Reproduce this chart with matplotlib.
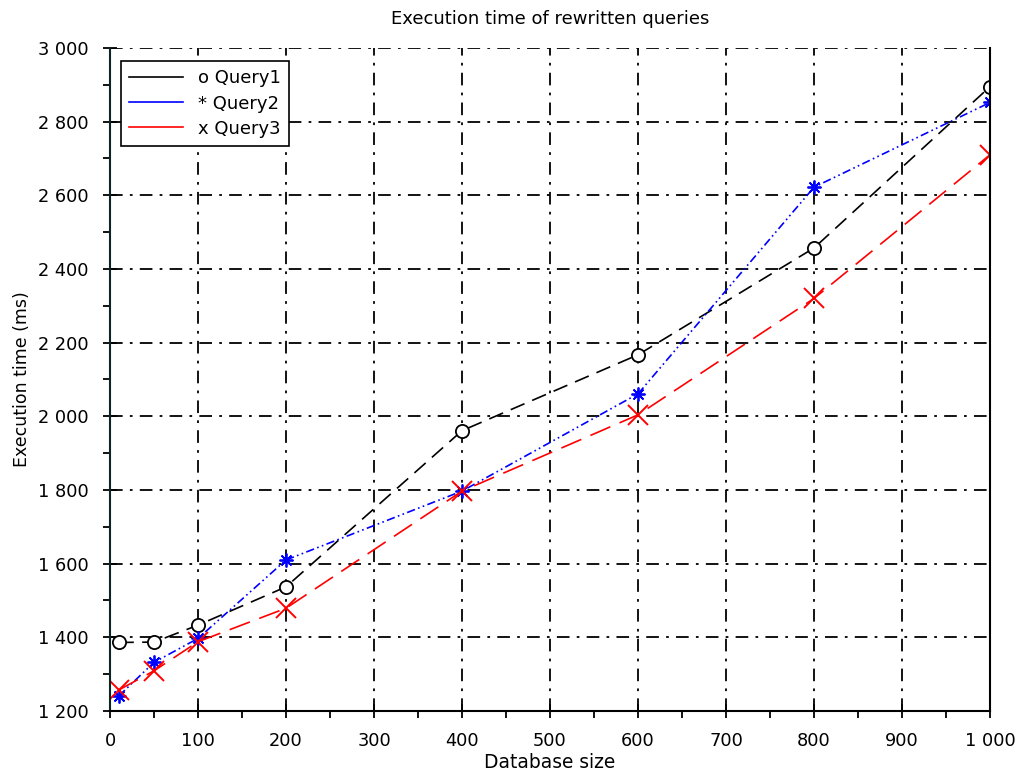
import matplotlib
matplotlib.use("Agg")
import matplotlib.pyplot as plt
from matplotlib.ticker import FuncFormatter, MultipleLocator

# data
db_size = [10, 50, 100, 200, 400, 600, 800, 1000]
query1 = [1386, 1387, 1433, 1537, 1961, 2167, 2457, 2895]
query2 = [1241, 1332, 1397, 1610, 1797, 2061, 2622, 2852]
query3 = [1257, 1309, 1388, 1479, 1797, 2004, 2320, 2710]

fig = plt.figure(figsize=(10.15, 7.76), dpi=100)
ax = fig.add_axes([0.1084, 0.0838, 0.8670, 0.8544])

ax.plot(db_size, query1, color="black", lw=1.2, dashes=(9, 5),
        marker="o", ms=9.5, mfc="white", mec="black", mew=1.3, label="o Query1")
ax.plot(db_size, query2, color="blue", lw=1.2, dashes=(5, 2, 1, 2, 1, 2),
        marker=(8, 2, 0), ms=10, mec="blue", mew=1.3, label="* Query2")
ax.plot(db_size, query3, color="red", lw=1.2, dashes=(13, 6),
        marker="x", ms=14, mec="red", mew=1.4, label="x Query3")

ax.set_xlim(0, 1000)
ax.set_ylim(1200, 3000)
ax.xaxis.set_major_locator(MultipleLocator(100))
ax.xaxis.set_minor_locator(MultipleLocator(50))
ax.yaxis.set_major_locator(MultipleLocator(200))
ax.yaxis.set_minor_locator(MultipleLocator(100))

spaced = FuncFormatter(lambda v, p: f"{int(v):,}".replace(",", " "))
ax.xaxis.set_major_formatter(spaced)
ax.yaxis.set_major_formatter(spaced)

ax.grid(True, which="major", color="black", lw=1.3, dashes=(7, 4, 1.5, 4))
ax.set_axisbelow(True)

ax.spines["top"].set_visible(False)
for s in ["left", "bottom", "right"]:
    ax.spines[s].set_linewidth(1.5)
ax.spines["left"].set_color("#0c2424")

ax.tick_params(which="major", direction="inout", length=10, width=1.3, labelsize=12.8)
ax.tick_params(axis="y", which="major", pad=10.5)
ax.tick_params(axis="x", which="major", pad=10.5)
ax.tick_params(which="minor", direction="out", length=5, width=1.3)
ax.tick_params(axis="y", which="both", right=False)
ax.tick_params(axis="x", which="both", top=False)

ax.set_xlabel("Database size", fontsize=13.4, labelpad=2)
ax.set_ylabel("Execution time (ms)", fontsize=12.5, labelpad=5)
ax.set_title("Execution time of rewritten queries", fontsize=13, pad=17)

leg = ax.legend(loc="upper left", bbox_to_anchor=(0.0125, 0.98), borderaxespad=0,
                fontsize=13, fancybox=False, framealpha=1, edgecolor="black",
                handlelength=3.0, handletextpad=0.8, borderpad=0.45, labelspacing=0.4)
leg.get_frame().set_linewidth(1.2)
for h in leg.get_lines():
    h.set_linestyle("-")
    h.set_marker("")

fig.savefig("out.png", dpi=100)
